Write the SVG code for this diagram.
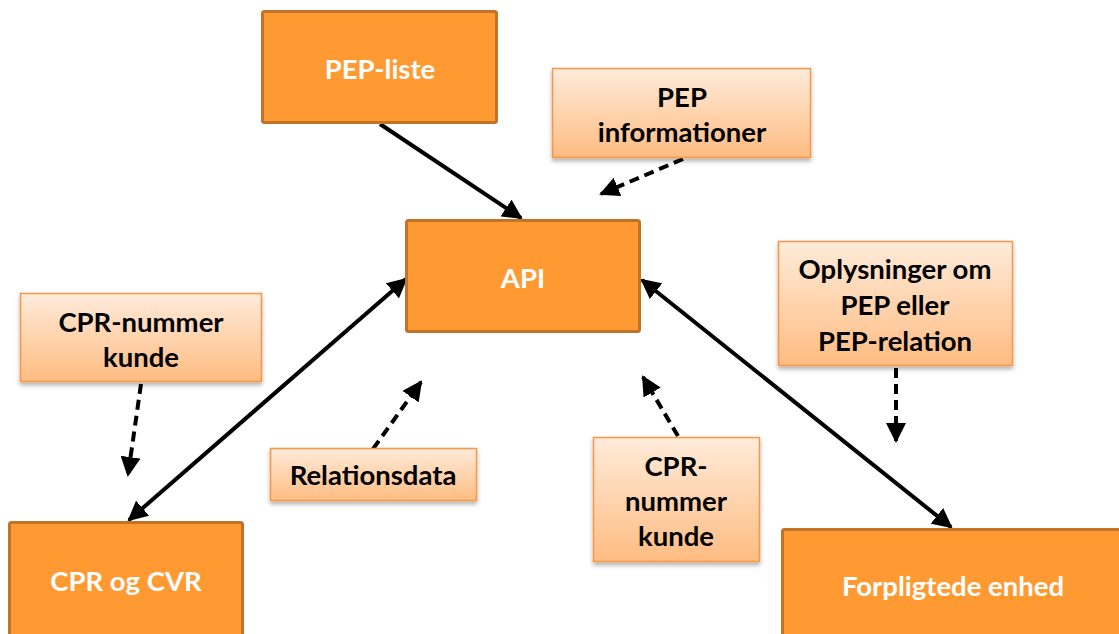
<svg xmlns="http://www.w3.org/2000/svg" width="1119" height="634" viewBox="0 0 1119 634">
  <style>
    .main rect { fill: #FF9A33; stroke: #C27328; stroke-width: 3; }
    .main text { fill: #FFFFFF; font-family: Lato, "Open Sans", sans-serif; font-weight: bold; font-size: 27.5px; text-anchor: middle; dominant-baseline: central; }
    .info rect { fill: url(#peach); stroke: #F79646; stroke-width: 1.5; filter: url(#shadow); }
    .info text { fill: #000000; font-family: Lato, "Open Sans", sans-serif; font-weight: bold; font-size: 27.5px; text-anchor: middle; dominant-baseline: central; }
    .flow { stroke: #000; stroke-width: 4; fill: none; }
    .solid { marker-end: url(#head); }
    .both { marker-start: url(#headStart); marker-end: url(#head); }
    .dashed { stroke-dasharray: 10 6; marker-end: url(#head); }
  </style>
  <defs>
    <linearGradient id="peach" x1="0" y1="0" x2="0" y2="1">
      <stop offset="0" stop-color="#FFEBDA"/>
      <stop offset="1" stop-color="#FFBC82"/>
    </linearGradient>
    <filter id="shadow" x="-10%" y="-10%" width="120%" height="130%">
      <feDropShadow dx="0" dy="3" stdDeviation="2" flood-color="#000" flood-opacity="0.3"/>
    </filter>
    <marker id="head" markerWidth="5" markerHeight="5" refX="4.5" refY="2.5" orient="auto" markerUnits="strokeWidth">
      <path d="M0,0 L5,2.5 L0,5 Z" fill="#000"/>
    </marker>
    <marker id="headStart" markerWidth="5" markerHeight="5" refX="0.5" refY="2.5" orient="auto" markerUnits="strokeWidth">
      <path d="M5,0 L0,2.5 L5,5 Z" fill="#000"/>
    </marker>
  </defs>

  <!-- connectors -->
  <g id="connectors">
    <line class="flow solid" x1="380" y1="124" x2="521" y2="218"/>
    <line class="flow both" x1="129" y1="520" x2="406" y2="279"/>
    <line class="flow both" x1="642" y1="280" x2="951" y2="527"/>
    <line class="flow dashed" x1="683" y1="159" x2="601" y2="194"/>
    <line class="flow dashed" x1="141" y1="384" x2="128" y2="475"/>
    <line class="flow dashed" x1="373" y1="449" x2="421" y2="382"/>
    <line class="flow dashed" x1="678" y1="436" x2="643" y2="377"/>
    <line class="flow dashed" x1="896" y1="368" x2="896" y2="441"/>
  </g>

  <!-- main systems -->
  <g id="pep-liste" class="main">
    <rect x="262.5" y="11.5" width="234" height="111" rx="2"/>
    <text x="380" y="68">PEP-liste</text>
  </g>
  <g id="api" class="main">
    <rect x="406.5" y="220.5" width="233" height="111" rx="2"/>
    <text x="523" y="277">API</text>
  </g>
  <g id="cpr-cvr" class="main">
    <rect x="9.5" y="522.5" width="233" height="116" rx="2"/>
    <text x="126" y="580">CPR og CVR</text>
  </g>
  <g id="forpligtede" class="main">
    <rect x="782.5" y="529.5" width="345" height="110" rx="2"/>
    <text x="953" y="585">Forpligtede enhed</text>
  </g>

  <!-- data labels -->
  <g id="pep-info" class="info">
    <rect x="552.5" y="68.5" width="258" height="89"/>
    <text x="682" y="96">PEP</text>
    <text x="682" y="131">informationer</text>
  </g>
  <g id="cpr-kunde-left" class="info">
    <rect x="20.5" y="293.5" width="241" height="88"/>
    <text x="141" y="321">CPR-nummer</text>
    <text x="141" y="356">kunde</text>
  </g>
  <g id="relationsdata" class="info">
    <rect x="270.5" y="448.5" width="206" height="52"/>
    <text x="373" y="474">Relationsdata</text>
  </g>
  <g id="cpr-kunde-mid" class="info">
    <rect x="593.5" y="437.5" width="166" height="124"/>
    <text x="676" y="465">CPR-</text>
    <text x="676" y="500">nummer</text>
    <text x="676" y="535">kunde</text>
  </g>
  <g id="oplysninger" class="info">
    <rect x="778.5" y="241.5" width="234" height="124"/>
    <text x="895" y="268">Oplysninger om</text>
    <text x="895" y="304">PEP eller</text>
    <text x="895" y="340">PEP-relation</text>
  </g>
</svg>
